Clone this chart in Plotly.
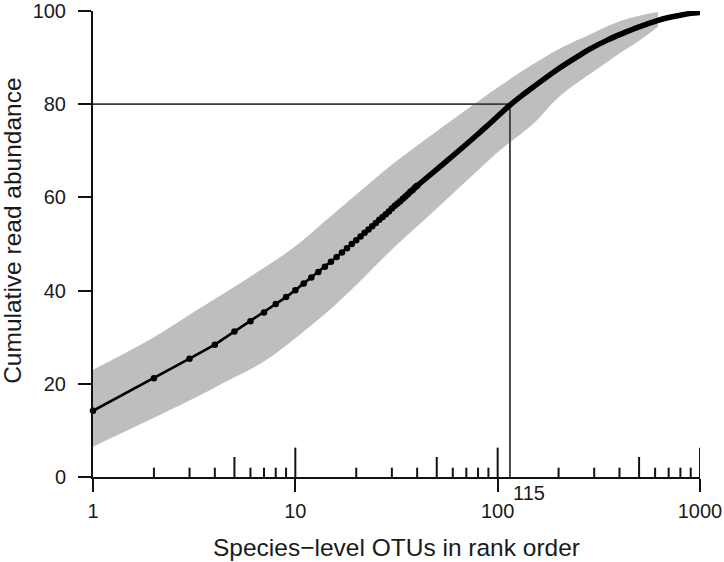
import math
import plotly.graph_objects as go

# ---- data ----
dot_ranks = list(range(1, 41))
dot_values = [14.2, 21.2, 25.4, 28.4, 31.2, 33.4, 35.3, 37.1, 38.6, 40.1,
              41.5, 42.8, 44.0, 45.1, 46.2, 47.2, 48.2, 49.1, 50.0, 50.8,
              51.6, 52.4, 53.1, 53.8, 54.5, 55.2, 55.8, 56.4, 57.0, 57.6,
              58.2, 58.7, 59.2, 59.7, 60.2, 60.7, 61.2, 61.6, 62.1, 62.5]

tail_ranks = [40, 50, 60, 70, 80, 90, 100, 115, 133, 150, 195, 250, 285,
              350, 415, 500, 610, 700, 800, 900, 1000]
tail_values = [62.5, 66.0, 68.9, 71.4, 73.6, 75.6, 77.4, 79.8, 82.0, 83.7,
               87.3, 90.3, 91.8, 93.8, 95.2, 96.6, 97.9, 98.6, 99.1, 99.5, 99.7]

band_ranks = [1, 2, 3, 5, 7, 10, 15, 20, 30, 50, 70, 100, 150, 200, 300, 400, 500, 620]
band_upper = [23.0, 30.0, 34.8, 40.8, 44.9, 49.5, 56.0, 60.6, 67.0, 74.2, 78.8,
              83.6, 88.6, 91.8, 95.4, 97.8, 99.0, 99.8]
band_lower = [6.5, 12.7, 16.4, 21.4, 24.8, 29.8, 36.1, 41.2, 48.8, 57.6, 63.5,
              69.7, 75.8, 81.5, 87.1, 90.9, 93.6, 96.6]

cutoff_rank = 115
cutoff_pct = 80

x_tick_vals = [1, 10, 100, 1000]
x_tick_text = ["1", "10", "100", "1000"]
y_tick_vals = [0, 20, 40, 60, 80, 100]
minor_ticks = [2, 3, 4, 6, 7, 8, 9, 20, 30, 40, 60, 70, 80, 90, 200, 300, 400, 600, 700, 800, 900]
mid_ticks = [5, 50, 500]
major_ticks = [10, 100, 1000]

# ---- styles ----
FONT = "Liberation Sans, Arial, sans-serif"
TXT = "#1a1a1a"
LEN_MINOR, LEN_MID, LEN_MAJOR = 2.0, 4.3, 6.3


def tick_segments(vals, length):
    xs, ys = [], []
    for v in vals:
        xs += [v, v, None]
        ys += [0, length, None]
    return xs, ys


fig = go.Figure()

fig.add_trace(go.Scatter(x=band_ranks, y=band_lower, mode="lines",
                         line=dict(width=0, shape="spline"), hoverinfo="skip",
                         showlegend=False))
fig.add_trace(go.Scatter(x=band_ranks, y=band_upper, mode="lines",
                         line=dict(width=0, shape="spline"), fill="tonexty",
                         fillcolor="#bebebe", hoverinfo="skip", showlegend=False))

# inside ticks on x axis
for vals, ln in [(minor_ticks, LEN_MINOR), (mid_ticks, LEN_MID), (major_ticks, LEN_MAJOR)]:
    xs, ys = tick_segments(vals, ln)
    fig.add_trace(go.Scatter(x=xs, y=ys, mode="lines", line=dict(color="#111111", width=2),
                             hoverinfo="skip", showlegend=False, cliponaxis=False))

# reference lines
fig.add_trace(go.Scatter(x=[1, cutoff_rank, cutoff_rank], y=[cutoff_pct, cutoff_pct, 0],
                         mode="lines", line=dict(color="#3a3a3a", width=1.8),
                         hoverinfo="skip", showlegend=False))

# main curve
fig.add_trace(go.Scatter(x=tail_ranks, y=tail_values, mode="lines",
                         line=dict(color="black", width=5.5, shape="spline"),
                         showlegend=False, cliponaxis=False))
fig.add_trace(go.Scatter(x=dot_ranks, y=dot_values, mode="lines+markers",
                         line=dict(color="black", width=2.6),
                         marker=dict(color="black", size=6.5),
                         showlegend=False, cliponaxis=False))

fig.add_annotation(x=math.log10(cutoff_rank), y=0, xref="x", yref="y",
                   text="115", showarrow=False, xanchor="center", yanchor="top",
                   xshift=19, yshift=-3, font=dict(family=FONT, size=20, color=TXT))
fig.add_annotation(x=-0.132, y=0.528, xref="paper", yref="paper",
                   text="Cumulative read abundance", showarrow=False, textangle=-90,
                   xanchor="center", yanchor="middle",
                   font=dict(family=FONT, size=24.5, color=TXT))
fig.add_annotation(x=0.5, y=-0.152, xref="paper", yref="paper",
                   text="Species\u2212level OTUs in rank order", showarrow=False,
                   xanchor="center", yanchor="middle",
                   font=dict(family=FONT, size=24.5, color=TXT))

fig.update_layout(
    width=724, height=562,
    margin=dict(l=93, r=24, t=11, b=85, autoexpand=False),
    paper_bgcolor="white", plot_bgcolor="white",
    font=dict(family=FONT, size=20, color=TXT),
    xaxis=dict(type="log", range=[0, 3], showgrid=False, zeroline=False,
               showline=True, linecolor="#111111", linewidth=2, automargin=False,
               ticks="outside", ticklen=13, tickwidth=2, tickcolor="#111111",
               tickvals=x_tick_vals, ticktext=x_tick_text, ticklabelstandoff=2,
               ticklabeloverflow="allow"),
    yaxis=dict(range=[0, 100], showgrid=False, zeroline=False, automargin=False,
               showline=True, linecolor="#111111", linewidth=2,
               ticks="outside", ticklen=13, tickwidth=2, tickcolor="#111111",
               tickvals=y_tick_vals, ticklabelstandoff=8,
               ticklabeloverflow="allow"),
)

fig.write_html("out.html", config={"displayModeBar": False},
               post_script="document.body.style.margin='0';document.body.style.overflow='hidden';")
